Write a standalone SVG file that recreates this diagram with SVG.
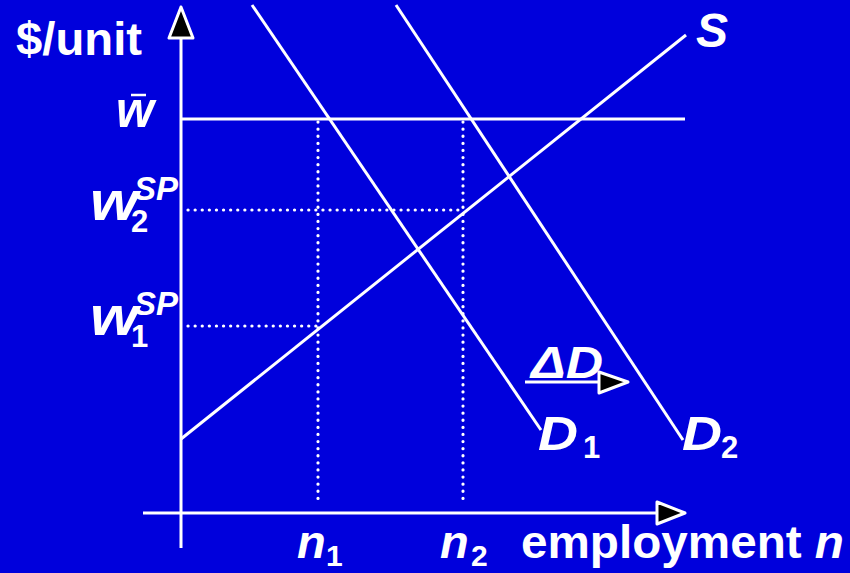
<svg xmlns="http://www.w3.org/2000/svg" width="850" height="573" viewBox="0 0 850 573">
<style>
.ln{stroke:#fff;stroke-width:3;fill:none}
.dt{stroke:#fff;stroke-width:3.2;fill:none;stroke-dasharray:0.1 7;stroke-linecap:round}
.hd{fill:#000;stroke:#fff;stroke-width:3;stroke-linejoin:round}
text{font-family:"Liberation Sans",Arial,sans-serif;font-weight:bold;fill:#fff}
.it{font-style:italic}
.m{font-size:47px}
.s{font-size:31px}
</style>
<rect width="850" height="573" fill="#0000DC"/>
<g id="connectors">
<line class="ln" x1="181" y1="548" x2="181" y2="36"/>
<polygon class="hd" points="181,7 169,38 193,38"/>
<line class="ln" x1="143" y1="513" x2="658" y2="513"/>
<polygon class="hd" points="685,513 657,502 657,524"/>
<line class="ln" x1="181" y1="119" x2="685" y2="119"/>
<line class="ln" x1="181" y1="439" x2="686" y2="35"/>
<line class="ln" x1="252" y1="5" x2="541" y2="430"/>
<line class="ln" x1="396" y1="5" x2="683" y2="440"/>
<line class="dt" x1="318" y1="122" x2="318" y2="505"/>
<line class="dt" x1="463" y1="122" x2="463" y2="505"/>
<line class="dt" x1="188" y1="210" x2="463" y2="210"/>
<line class="dt" x1="188" y1="326" x2="318" y2="326"/>
<line class="ln" x1="525" y1="382" x2="600" y2="382"/>
<polygon class="hd" points="628,382 599,372 599,393"/>
</g>
<g id="yaxis-label"><text x="16" y="55" style="font-size:46px" textLength="126" lengthAdjust="spacingAndGlyphs">$/unit</text></g>
<g id="wbar"><text class="it" x="116" y="127" style="font-size:50px" textLength="38" lengthAdjust="spacingAndGlyphs">w</text><line class="ln" x1="131" y1="95" x2="146" y2="95" style="stroke-width:2.5"/></g>
<g id="w2sp"><text class="it" x="90" y="220" style="font-size:55px" textLength="48" lengthAdjust="spacingAndGlyphs">w</text><text class="s" x="131" y="232" style="font-size:31px">2</text><text class="it" x="134" y="200" style="font-size:33px">SP</text></g>
<g id="w1sp"><text class="it" x="90" y="335" style="font-size:55px" textLength="48" lengthAdjust="spacingAndGlyphs">w</text><text class="s" x="131" y="347" style="font-size:31px">1</text><text class="it" x="134" y="315" style="font-size:33px">SP</text></g>
<g id="S"><text class="it" x="696" y="47" style="font-size:48px">S</text></g>
<g id="D1"><text class="it" x="538" y="450" style="font-size:48px" textLength="40" lengthAdjust="spacingAndGlyphs">D</text><text class="s" x="583" y="458">1</text></g>
<g id="D2"><text class="it" x="682" y="450" style="font-size:48px" textLength="40" lengthAdjust="spacingAndGlyphs">D</text><text class="s" x="721" y="458">2</text></g>
<g id="deltaD"><text class="it" x="531" y="378" style="font-size:44px" textLength="72" lengthAdjust="spacingAndGlyphs">ΔD</text></g>
<g id="n1"><text class="m it" x="297" y="558">n</text><text x="326" y="566" style="font-size:30px">1</text></g>
<g id="n2"><text class="m it" x="440" y="558">n</text><text x="471" y="566" style="font-size:30px">2</text></g>
<g id="xaxis-label"><text class="m" x="521" y="558" textLength="323" lengthAdjust="spacingAndGlyphs">employment <tspan class="it">n</tspan></text></g>
</svg>
